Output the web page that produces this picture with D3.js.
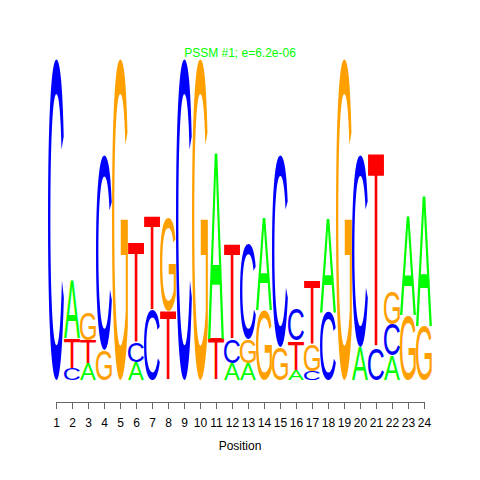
<!DOCTYPE html>
<html>
<head>
<meta charset="utf-8">
<script src="https://cdn.jsdelivr.net/npm/d3@7"></script>
<style>
  body { margin: 0; background: #fff; }
  text { font-family: "Liberation Sans", Arial, Helvetica, sans-serif; }
</style>
</head>
<body>
<script>
// DATA (information content in bits, per position)
var positions = d3.range(1, 25);
var bitsA = [0, 0.359, 0.105, 0, 0, 0.108, 0, 0, 0, 0, 1.152, 0.105, 0.105, 0.570, 0, 0.062, 0, 0.576, 0, 0.204, 0, 0.150, 0.613, 0.799];
var bitsC = [1.99, 0.074, 0, 1.207, 0, 0.118, 0.433, 0, 1.99, 0, 0, 0.149, 0.588, 0, 1.189, 0.192, 0.056, 0.421, 0, 1.189, 0.198, 0.195, 0, 0];
var bitsG = [0, 0, 0.173, 0.186, 1.99, 0, 0, 0.582, 0, 1.99, 0, 0, 0.149, 0.433, 0.204, 0, 0.161, 0, 1.99, 0, 0, 0.200, 0.402, 0.334];
var bitsT = [0, 0.186, 0.142, 0, 0, 0.619, 0.582, 0.427, 0, 0, 0.254, 0.588, 0, 0, 0, 0.180, 0.390, 0, 0, 0, 1.201, 0, 0, 0];
var letters = ["A", "C", "G", "T"];
var title = "PSSM #1; e=6.2e-06";

var colors = {A: "#00FF00", C: "#0000FF", G: "#FFA000", T: "#FF0000"};
var series = {A: bitsA, C: bitsC, G: bitsG, T: bitsT};

var svg = d3.select("body")
    .append("svg")
    .attr("width", 480)
    .attr("height", 480);

// scales
var xScale = d3.scaleLinear().domain([0.5, 24.5]).range([48, 432]);
var yScale = d3.scaleLinear().domain([0, 2]).range([380, 57]);
var colW = xScale(1.5) - xScale(0.5);

// ink box of each glyph, measured on a canvas
var ctx = document.createElement("canvas").getContext("2d");
ctx.font = "100px 'Liberation Sans', Arial, sans-serif";
var ink = {};
letters.forEach(function(l) {
    var m = ctx.measureText(l);
    ink[l] = {l: m.actualBoundingBoxLeft, r: m.actualBoundingBoxRight,
              a: m.actualBoundingBoxAscent, d: m.actualBoundingBoxDescent};
});

// stack letters, smallest at the bottom
var stacks = [];
positions.forEach(function(p, i) {
    var col = letters.map(function(l) { return {pos: p, letter: l, bits: series[l][i]}; })
        .filter(function(d) { return d.bits > 0; })
        .sort(function(a, b) { return a.bits - b.bits; });
    var y = 0;
    col.forEach(function(d) {
        d.y0 = y;
        d.y1 = y + d.bits;
        y = d.y1;
        stacks.push(d);
    });
});

svg.append("g").selectAll("text").data(stacks)
    .enter()
    .append("text")
    .attr("font-size", 100)
    .attr("fill", function(d) { return colors[d.letter]; })
    .attr("transform", function(d) {
        var m = ink[d.letter];
        var x0 = xScale(d.pos - 0.5);
        var top = yScale(d.y1);
        var sx = colW / (m.l + m.r);
        var sy = (yScale(d.y0) - top) / (m.a + m.d);
        return "translate(" + x0 + "," + top + ") scale(" + sx + "," + sy + ") translate(" + m.l + "," + m.a + ")";
    })
    .text(function(d) { return d.letter; });

// x axis
var axis = svg.append("g")
    .attr("transform", "translate(0,402)")
    .call(d3.axisBottom(xScale).tickValues(positions).tickSize(7).tickPadding(9).tickSizeOuter(0));
axis.select(".domain")
    .attr("stroke", "#666")
    .attr("d", "M" + xScale(1) + ",0.5H" + xScale(24));
axis.selectAll(".tick line").attr("stroke", "#666");
axis.selectAll(".tick text")
    .attr("font-size", 12)
    .attr("fill", "#000")
    .style("font-family", "'Liberation Sans', Arial, sans-serif");

svg.append("text")
    .attr("x", 240)
    .attr("y", 450)
    .attr("text-anchor", "middle")
    .attr("font-size", 12)
    .text("Position");

svg.append("text")
    .attr("x", 240)
    .attr("y", 57)
    .attr("text-anchor", "middle")
    .attr("font-size", 12)
    .attr("fill", "#00FF00")
    .text(title);
</script>
</body>
</html>
